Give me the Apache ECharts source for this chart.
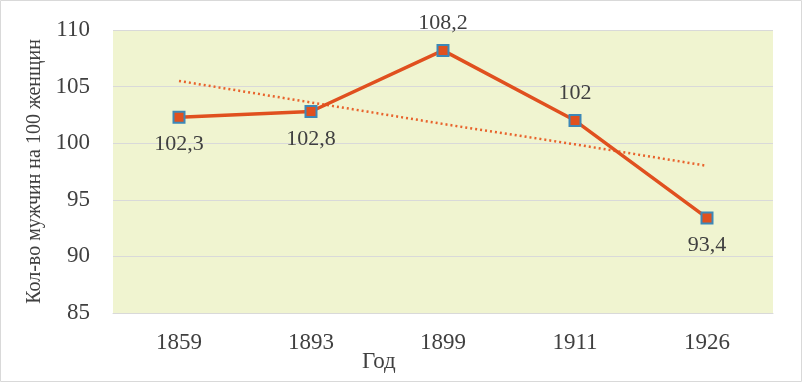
<!DOCTYPE html>
<html><head><meta charset="utf-8">
<script src="https://cdn.jsdelivr.net/npm/echarts@6/dist/echarts.min.js"></script>
<style>html,body{margin:0;padding:0;background:#fff}#c{width:802px;height:382px}</style>
</head><body><div id="c"></div>
<script>
var years = ['1859','1893','1899','1911','1926'];
var ratio = [102.3, 102.8, 108.2, 102, 93.4];
var trend = [105.5, 103.6, 101.7, 99.9, 98.0];
var labelPos = ['bottom','bottom','top','top','bottom'];

var chart = echarts.init(document.getElementById('c'));
var F = '"Liberation Serif","Times New Roman",serif';
chart.setOption({
  animation:false,
  graphic:[
    {type:'rect', shape:{x:0.5,y:0.5,width:801,height:381}, style:{fill:'none',stroke:'#D9D9D9',lineWidth:1}, z:-1},
    {type:'text', left:362, top:350, style:{text:'Год', font:'23px '+F, fill:'#404040'}}
  ],
  grid:{left:113, right:29, top:30, bottom:69, show:true, backgroundColor:'#F0F4D0', borderWidth:0},
  xAxis:{type:'category', data:years, boundaryGap:true,
    axisLine:{show:true, lineStyle:{color:'#D9D9D9'}}, axisTick:{show:false},
    axisLabel:{fontFamily:F, fontSize:23, color:'#404040', margin:18}},
  yAxis:{type:'value', min:85, max:110, interval:5,
    name:'Кол-во мужчин на 100 женщин', nameLocation:'middle', nameGap:68,
    nameTextStyle:{fontFamily:F, fontSize:20, color:'#404040'},
    axisLine:{show:false}, axisTick:{show:false},
    splitLine:{lineStyle:{color:'#D9D9D9'}},
    axisLabel:{fontFamily:F, fontSize:23, color:'#404040', margin:23}},
  series:[
    {type:'line', data:trend, symbol:'none', z:1,
      lineStyle:{color:'#E8632C', width:2.5, type:[2,3]}},
    {type:'line', data:ratio.map(function(v,i){return {value:v, label:{position:labelPos[i]}};}),
      symbol:'rect', symbolSize:11, z:3,
      lineStyle:{color:'#E0501F', width:3.5},
      itemStyle:{color:'#E0501F', borderColor:'#3D88B8', borderWidth:2},
      label:{show:true, fontFamily:F, fontSize:22, color:'#404040', distance:10,
        formatter:function(p){return String(p.value).replace('.',',');}}}
  ]
});
</script></body></html>
